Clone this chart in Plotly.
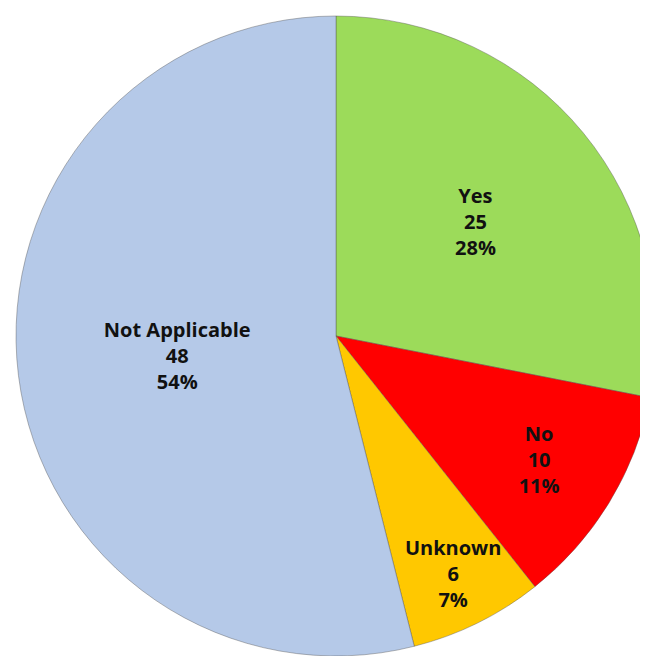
import plotly.graph_objects as go

categories = ["Yes", "No", "Unknown", "Not Applicable"]
counts = [25, 10, 6, 48]
colors = ["#9CDB5A", "#FF0000", "#FFC800", "#B5C9E8"]

fig = go.Figure(go.Pie(
    labels=categories,
    values=counts,
    sort=False,
    direction="clockwise",
    rotation=0,
    marker=dict(colors=colors, line=dict(color="rgba(80,80,80,0.4)", width=1)),
    texttemplate="%{label}<br>%{value}<br>%{percent:.0%}",
    textposition="inside",
    insidetextorientation="horizontal",
    textfont=dict(family="Liberation Sans Narrow, Open Sans, sans-serif", size=20, color="#111111", weight="bold"),
    showlegend=False,
    domain=dict(x=[0, 1], y=[0, 1]),
    hoverinfo="label+value+percent",
))
fig.update_layout(
    width=648, height=656,
    margin=dict(l=8, r=0, t=2, b=2),
    paper_bgcolor="white",
    uniformtext=dict(minsize=20, mode="show"),
)
fig.write_html("out.html")
